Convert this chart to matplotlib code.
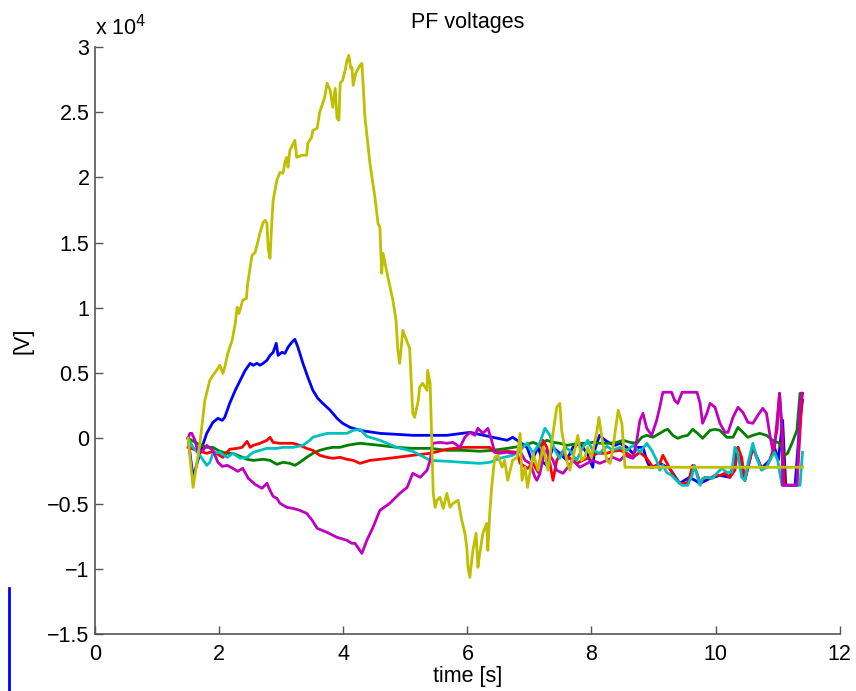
"""PF voltages - MATLAB style time traces."""
import numpy as np
import matplotlib
matplotlib.use('Agg')
import matplotlib.pyplot as plt
from matplotlib.ticker import FuncFormatter, MultipleLocator
from matplotlib.lines import Line2D

plt.rcParams.update({
    'font.family': ['Liberation Sans', 'DejaVu Sans'],
    'font.size': 15.5,
    'axes.unicode_minus': True,
})

# --- data (time [s], voltage [V]) ---
t_blue = [1.50, 1.58, 1.69, 1.80, 1.90, 1.98, 2.05, 2.09, 2.17, 2.26, 2.34, 2.42, 2.50,
          2.55, 2.61, 2.66, 2.71, 2.77, 2.82, 2.87, 2.92, 2.95, 3.01, 3.06, 3.11, 3.17,
          3.22, 3.27, 3.35, 3.43, 3.51, 3.59, 3.67, 3.79, 3.90, 3.99, 4.11, 4.27, 4.59,
          5.12, 5.67, 6.04, 6.41, 6.64, 6.73, 6.85, 6.96, 7.04, 7.14, 7.22, 7.28, 7.38,
          7.49, 7.60, 7.70, 7.81, 7.93, 8.02, 8.05, 8.13, 8.22, 8.30, 8.38, 8.46, 8.57,
          8.67, 8.75, 8.83, 8.89, 8.94, 8.99, 9.10, 9.26, 9.42, 9.58, 9.75, 9.91, 10.07,
          10.23, 10.36, 10.47, 10.60, 10.74, 10.87, 10.95, 11.01, 11.08, 11.13, 11.28,
          11.36, 11.40]
v_blue = [0, -2990, -1150, 380, 1230, 1530, 1380, 1610, 2680, 3680, 4450, 5210, 5750,
          5600, 5750, 5600, 5750, 5980, 6360, 6590, 7280, 6360, 6590, 6520, 6980, 7360,
          7590, 6980, 5750, 4680, 3680, 3070, 2680, 2150, 1530, 1150, 840, 610, 380,
          230, 230, 460, 80, -150, 80, -310, -690, -1690, -690, -1840, -2070, -690,
          -1150, -1690, -690, -380, -1150, -2220, -920, 230, -150, -380, -540, -380, -690,
          -1150, -690, -690, -1690, -2220, -2220, -1920, -2300, -3450, -2990, -3450, -3070, -2840,
          -2990, -690, -3220, -690, -2300, -1690, -690, -1690, 1380, -3600, -3600,
          1380, 2910]

t_green = [1.50, 1.64, 1.80, 1.90, 2.01, 2.13, 2.22, 2.34, 2.45, 2.55, 2.71, 2.82, 2.93,
           3.03, 3.14, 3.22, 3.30, 3.41, 3.51, 3.62, 3.74, 3.83, 3.95, 4.06, 4.16, 4.27,
           4.59, 4.86, 5.12, 5.40, 5.67, 5.93, 6.20, 6.41, 6.64, 6.85, 6.96, 7.06, 7.17,
           7.28, 7.38, 7.49, 7.60, 7.70, 7.81, 7.93, 8.02, 8.13, 8.30, 8.41, 8.51, 8.62,
           8.73, 8.81, 8.89, 8.99, 9.10, 9.18, 9.23, 9.31, 9.39, 9.47, 9.55, 9.63, 9.71,
           9.79, 9.91, 9.99, 10.07, 10.18, 10.28, 10.36, 10.44, 10.52, 10.60, 10.71, 10.82,
           10.92, 11.03, 11.11, 11.16, 11.23, 11.31, 11.36, 11.40]
v_green = [0, -380, -690, -690, -990, -1150, -1150, -1380, -1610, -1690, -1610, -1690, -1990,
           -1840, -1920, -2070, -1840, -1460, -1150, -920, -770, -690, -690, -540, -460, -380,
           -540, -690, -770, -770, -920, -920, -990, -920, -770, -610, -460, -310, -540,
           -150, -310, -380, -540, -460, -380, -380, -310, -380, -380, -310, -150, -310,
           -380, 80, 230, 80, 380, 610, 690, 230, 0, 150, 230, 690, 380,
           0, 610, 690, 610, 80, 80, 840, 460, 80, 230, 380, 230,
           -150, -380, -1300, -1150, -380, 610, 3450, 3450]

t_red = [1.50, 1.64, 1.80, 1.90, 2.06, 2.17, 2.29, 2.37, 2.45, 2.50, 2.55, 2.66, 2.77,
         2.82, 2.87, 2.98, 3.19, 3.30, 3.41, 3.51, 3.62, 3.74, 3.83, 3.95, 4.06, 4.16,
         4.27, 4.43, 4.59, 4.86, 5.12, 5.40, 5.67, 5.93, 6.20, 6.36, 6.44, 6.64, 6.80,
         6.85, 6.97, 7.06, 7.14, 7.22, 7.28, 7.38, 7.44, 7.52, 7.65, 7.76, 7.86, 7.97,
         8.09, 8.25, 8.34, 8.46, 8.57, 8.67, 8.78, 8.89, 8.99, 9.10, 9.15, 9.21, 9.26,
         9.34, 9.42, 9.54, 9.58, 9.63, 9.70, 9.75, 9.83, 9.91, 9.99, 10.07, 10.15, 10.23,
         10.31, 10.36, 10.42, 10.47, 10.52, 10.60, 10.66, 10.74, 10.82, 10.87, 10.95,
         11.03, 11.08, 11.11, 11.31, 11.39, 11.40]
v_red = [-690, -920, -1150, -1000, -1460, -840, -770, -690, -230, -690, -540, -380, -150,
         80, -310, -380, -380, -540, -770, -920, -1300, -1460, -1530, -1460, -1610, -1690,
         -1920, -1690, -1610, -1460, -1300, -1150, -840, -690, -690, -690, -1070, -1000, -1070,
         -1920, -2300, -1920, -2610, -150, -690, -3220, -1690, -1070, -1530, -1920, -1690, -1460,
         -1150, -1150, -1000, -920, -1150, -1460, -1070, -1530, -2220, -1920, -1300, -1840, -2300,
         -2990, -3450, -3450, -2990, -2070, -2680, -3450, -2990, -3070, -2840, -2840, -2680, -2990,
         -2450, -690, -1460, -3220, -2220, -690, -1460, -2300, -2220, -1690, -690,
         3450, -150, -3600, -3600, 2910, 3450]

t_cyan = [1.50, 1.58, 1.69, 1.80, 1.85, 1.90, 2.01, 2.13, 2.22, 2.34, 2.45, 2.55, 2.66,
          2.77, 2.93, 3.03, 3.19, 3.35, 3.46, 3.51, 3.62, 3.74, 3.83, 3.95, 4.06, 4.16,
          4.27, 4.38, 4.59, 4.86, 5.12, 5.40, 5.67, 5.93, 6.20, 6.36, 6.52, 6.73, 6.85,
          6.96, 7.06, 7.17, 7.25, 7.33, 7.41, 7.49, 7.57, 7.65, 7.76, 7.86, 7.94, 8.02,
          8.13, 8.25, 8.34, 8.46, 8.57, 8.67, 8.78, 8.89, 8.97, 9.05, 9.10, 9.15, 9.21,
          9.29, 9.37, 9.46, 9.55, 9.62, 9.66, 9.71, 9.75, 9.79, 9.87, 9.95, 10.02, 10.10,
          10.18, 10.26, 10.31, 10.36, 10.42, 10.47, 10.52, 10.60, 10.66, 10.74, 10.82,
          10.87, 10.95, 11.00, 11.07, 11.36, 11.40]
v_cyan = [0, -690, -1300, -2070, -1840, -1150, -1070, -1460, -1150, -1530, -1460, -1070, -920,
          -770, -770, -690, -690, -540, -150, 80, 230, 380, 380, 380, 380, 610,
          690, 150, -150, -690, -1000, -1690, -1760, -1840, -1920, -1840, -1530, -1300, -920,
          -380, -1150, -310, 770, 230, -920, -1530, -690, -920, -1690, -690, -150, -920,
          -1150, -610, -920, -690, -920, -540, -1070, -380, -920, -1690, -2450, -2070, -2610,
          -2840, -3220, -3600, -3600, -2840, -2070, -2990, -3600, -3070, -2990, -3070, -2680, -2300,
          -2610, -2610, -690, -1150, -2990, -3220, -1920, -380, -1460, -2450, -2220,
          -1690, -1070, -1690, -3600, -3600, -1070]

t_magenta = [1.50, 1.53, 1.56, 1.61, 1.66, 1.74, 1.80, 1.90, 1.98, 2.05, 2.13, 2.22, 2.30,
             2.38, 2.47, 2.58, 2.69, 2.77, 2.82, 2.87, 2.93, 2.98, 3.09, 3.19, 3.30, 3.41,
             3.50, 3.58, 3.74, 3.90, 4.06, 4.14, 4.19, 4.30, 4.38, 4.48, 4.59, 4.75, 4.91,
             5.03, 5.12, 5.24, 5.35, 5.40, 5.44, 5.56, 5.67, 5.77, 5.88, 5.96, 6.04, 6.12,
             6.17, 6.25, 6.33, 6.39, 6.44, 6.52, 6.64, 6.73, 6.85, 6.93, 7.01, 7.09, 7.12,
             7.17, 7.22, 7.28, 7.38, 7.44, 7.54, 7.62, 7.70, 7.81, 7.93, 8.02, 8.13, 8.25,
             8.34, 8.46, 8.54, 8.62, 8.67, 8.73, 8.78, 8.83, 8.89, 8.97, 9.05, 9.10, 9.15,
             9.29, 9.34, 9.39, 9.46, 9.70, 9.75, 9.79, 9.86, 9.91, 9.99, 10.07, 10.15, 10.20,
             10.28, 10.36, 10.44, 10.52, 10.60, 10.68, 10.76, 10.82, 10.87, 10.92, 10.99,
             11.03, 11.07, 11.08, 11.31, 11.36, 11.39]
v_magenta = [0, 380, 380, -150, -1070, -920, -540, -920, -1840, -2150, -2070, -2300, -2530,
             -2300, -3070, -3530, -3830, -3450, -3990, -4450, -4600, -4980, -5290, -5370, -5520, -5750,
             -6290, -6900, -7210, -7590, -7820, -8050, -8050, -8820, -7820, -6820, -5520, -4980, -4220,
             -3760, -2680, -2990, -2450, -1690, -380, -310, -380, -310, -690, 80, 460, 230,
             770, 380, 770, -150, -1070, -1150, -1070, -1150, -1000, -1690, -1920, -2990, -3220,
             -2680, -1460, -920, -1690, -2450, -2680, -2220, -1690, -2220, -1920, -1690, -1920, -1690,
             -1460, -1690, -1300, -1460, -1530, -150, 1380, 1920, 770, 230, 1380, 2380, 3530,
             3530, 2910, 2680, 3530, 3530, 2680, 1150, 1920, 2680, 2380, 1150, 460, 460,
             1610, 2380, 1990, 1230, 1150, 1760, 2300, 1920, 380, -920, 610,
             3450, 610, -3600, -3600, 2680, 3450]

t_yellow = [1.50, 1.58, 1.69, 1.77, 1.85, 1.90, 1.96, 2.01, 2.06, 2.09, 2.14, 2.21, 2.26,
            2.29, 2.32, 2.38, 2.44, 2.46, 2.50, 2.53, 2.58, 2.63, 2.66, 2.71, 2.74, 2.77,
            2.79, 2.82, 2.85, 2.87, 2.93, 2.98, 3.03, 3.06, 3.09, 3.11, 3.14, 3.22, 3.25,
            3.33, 3.41, 3.43, 3.49, 3.51, 3.58, 3.62, 3.70, 3.74, 3.79, 3.83, 3.87, 3.90,
            3.93, 3.95, 3.99, 4.03, 4.06, 4.09, 4.12, 4.14, 4.16, 4.20, 4.27, 4.30, 4.35,
            4.43, 4.51, 4.56, 4.59, 4.62, 4.64, 4.72, 4.80, 4.85, 4.88, 4.91, 4.96, 5.02,
            5.07, 5.12, 5.15, 5.21, 5.23, 5.28, 5.35, 5.36, 5.40, 5.43, 5.45, 5.48, 5.51,
            5.56, 5.61, 5.67, 5.72, 5.77, 5.85, 5.91, 5.96, 5.99, 6.01, 6.04, 6.07, 6.09,
            6.14, 6.17, 6.20, 6.25, 6.31, 6.33, 6.36, 6.39, 6.44, 6.49, 6.56, 6.60, 6.65,
            6.73, 6.80, 6.85, 6.88, 6.93, 6.97, 7.06, 7.14, 7.22, 7.30, 7.38, 7.44, 7.49,
            7.52, 7.60, 7.65, 7.73, 7.78, 7.84, 7.89, 7.94, 8.00, 8.09, 8.12, 8.18, 8.25,
            8.30, 8.34, 8.43, 8.49, 8.54, 11.40]
v_yellow = [0, -3760, -380, 2910, 4450, 4830, 5210, 5600, 4980, 5440, 6520, 7510, 8820,
            10040, 9580, 10580, 10730, 11880, 13110, 14030, 14260, 15180, 15790, 16560, 16710, 16480,
            14570, 13800, 16710, 18250, 19780, 20390, 20320, 21160, 21540, 20780, 22080, 22850, 21540,
            21700, 21700, 22620, 23080, 23610, 23770, 24990, 26140, 27220, 26680, 25380, 26830, 24530,
            24380, 27220, 27450, 28210, 28980, 29360, 28370, 28440, 27060, 27980, 28600, 28750, 24610,
            21080, 18480, 16480, 16180, 12650, 14180, 12340, 10580, 9050, 6750, 5750, 8280, 7510,
            6900, 1920, 1610, 2910, 3910, 4220, 3680, 5210, 4220, -920, -4220, -5290, -4750,
            -4520, -5370, -4220, -5290, -4980, -4750, -6290, -7280, -8360, -9890, -10660, -9350, -8590,
            -7280, -9890, -8820, -7280, -6520, -8590, -5750, -3830, -1460, -1300, -2220, -1690, -3220,
            -1690, -1460, 380, -3220, -2220, -3760, -1150, -2450, -690, -2450, 380, 2380, 2680,
            610, -1690, -2450, -920, 230, -1690, -1460, -690, -1460, 610, 1610, -380, -1690,
            -1920, -920, 2150, 1150, -2220, -2220]

series = [
    (t_blue, v_blue, (0, 0, 1)),
    (t_green, v_green, (0, 0.5, 0)),
    (t_red, v_red, (1, 0, 0)),
    (t_cyan, v_cyan, (0, 0.75, 0.75)),
    (t_magenta, v_magenta, (0.75, 0, 0.75)),
    (t_yellow, v_yellow, (0.75, 0.75, 0)),
]

fig = plt.figure(figsize=(8.56, 6.91), dpi=100)
ax = fig.add_axes([0.111, 0.0825, 0.870, 0.8495])

for t, v, c in series:
    ax.plot(np.array(t), np.array(v), color=c, lw=2.0)

ax.set_xlim(0, 12)
ax.set_ylim(-15000, 30000)
ax.xaxis.set_major_locator(MultipleLocator(2))
ax.yaxis.set_major_locator(MultipleLocator(5000))
ax.yaxis.set_major_formatter(FuncFormatter(lambda y, _: f'{y / 1e4:g}'.replace('-', '\u2212')))

for side in ('top', 'right'):
    ax.spines[side].set_visible(False)
for side in ('left', 'bottom'):
    ax.spines[side].set_color('#555555')
    ax.spines[side].set_linewidth(1.2)
ax.tick_params(axis='x', direction='in', length=6, width=1.0, color='#555555',
               labelsize=15.5, pad=7)
ax.tick_params(axis='y', direction='in', length=6, width=1.0, color='#555555',
               labelsize=15.5, pad=4)

ax.text(0.0, 1.012, r'x 10$^{4}$', transform=ax.transAxes, fontsize=15.5,
        ha='left', va='bottom')
ax.set_title('PF voltages', fontsize=15.5, pad=14)
ax.set_xlabel('time [s]', fontsize=15.5, labelpad=1)
ax.set_ylabel('[V]', fontsize=15.5, labelpad=10)

# stray blue marker at the lower left edge of the figure
fig.add_artist(Line2D([0.0105, 0.0105], [0.0, 0.149], color=(0, 0, 1), lw=2.0))

fig.savefig('out.png', dpi=100)
plt.close(fig)
